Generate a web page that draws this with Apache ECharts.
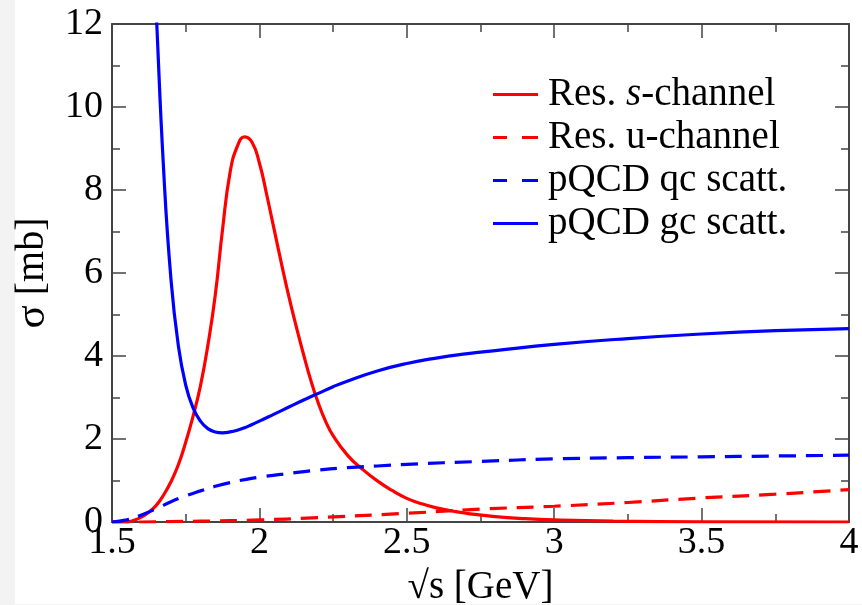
<!DOCTYPE html>
<html>
<head>
<meta charset="utf-8">
<script src="https://cdn.jsdelivr.net/npm/echarts@6/dist/echarts.min.js"></script>
<style>
  html, body { margin: 0; padding: 0; background: #ffffff; }
  #chart { width: 862px; height: 605px; }
</style>
</head>
<body>
<div id="chart"></div>
<script>
// Resonance s-channel contribution (sqrt(s) in GeV, sigma in mb)
const sChanX = [1.50, 1.55, 1.575, 1.60, 1.625, 1.65, 1.675, 1.70, 1.725, 1.75, 1.775, 1.80, 1.825, 1.85, 1.875, 1.90, 1.925, 1.95, 1.975, 2.00, 2.025, 2.05, 2.075, 2.10, 2.125, 2.15, 2.175, 2.20, 2.225, 2.25, 2.30, 2.35, 2.40, 2.45, 2.50, 2.55, 2.60, 2.65, 2.70, 2.80, 2.90, 3.00, 3.20, 3.50, 4.00];
const sChanY = [0.00, 0.00, 0.04, 0.12, 0.24, 0.40, 0.65, 0.97, 1.38, 1.92, 2.55, 3.28, 4.25, 5.45, 7.05, 8.40, 9.05, 9.28, 9.15, 8.65, 7.88, 7.05, 6.22, 5.43, 4.71, 4.03, 3.40, 2.86, 2.42, 2.08, 1.60, 1.27, 0.99, 0.76, 0.57, 0.44, 0.34, 0.27, 0.21, 0.13, 0.08, 0.05, 0.02, 0.005, 0.00];

// Resonance u-channel contribution
const uChanX = [1.50, 1.60, 1.70, 1.80, 2.00, 2.18, 2.50, 2.75, 3.00, 3.25, 3.50, 3.75, 4.00];
const uChanY = [0.00, 0.00, 0.01, 0.02, 0.05, 0.10, 0.21, 0.31, 0.38, 0.47, 0.58, 0.67, 0.78];

// Perturbative QCD quark-charm scattering
const qcX = [1.50, 1.55, 1.60, 1.65, 1.70, 1.75, 1.80, 1.85, 1.90, 1.95, 2.00, 2.10, 2.20, 2.30, 2.40, 2.50, 2.75, 3.00, 3.25, 3.50, 3.75, 4.00];
const qcY = [0.00, 0.05, 0.17, 0.32, 0.49, 0.63, 0.75, 0.86, 0.95, 1.02, 1.08, 1.17, 1.25, 1.31, 1.35, 1.39, 1.46, 1.52, 1.55, 1.57, 1.59, 1.61];

// Perturbative QCD gluon-charm scattering
const gcX = [1.625, 1.65, 1.675, 1.70, 1.725, 1.75, 1.775, 1.80, 1.825, 1.85, 1.875, 1.90, 1.925, 1.95, 1.975, 2.00, 2.05, 2.10, 2.15, 2.20, 2.25, 2.30, 2.40, 2.50, 2.60, 2.70, 2.80, 3.00, 3.25, 3.50, 3.75, 4.00];
const gcY = [16.2, 12.3, 8.50, 5.85, 4.25, 3.30, 2.75, 2.43, 2.25, 2.17, 2.15, 2.17, 2.21, 2.27, 2.35, 2.43, 2.60, 2.77, 2.94, 3.10, 3.26, 3.40, 3.64, 3.82, 3.95, 4.05, 4.13, 4.28, 4.42, 4.53, 4.61, 4.66];

const xTicks = [1.5, 2, 2.5, 3, 3.5, 4];
const yTicks = [0, 2, 4, 6, 8, 10, 12];

const seriesNames = ['Res. s-channel', 'Res. u-channel', 'pQCD qc scatt.', 'pQCD gc scatt.'];
const seriesDashed = [false, true, true, false];

const pairs = (xs, ys) => xs.map((x, i) => [x, ys[i]]);

const SERIF = '"Liberation Serif", "DejaVu Serif", serif';
const AXIS_COLOR = '#444444';
const RED = '#ff0000';
const BLUE = '#0000ff';
const DASH = [17, 10];
const ICON_SOLID = 'path://M0,0H45V3H0Z';
const ICON_DASHED = 'path://M0,0H14V3H0ZM29,0H45V3H29Z';

function axisCommon(showLabels) {
  return {
    axisLine: { show: true, onZero: false, lineStyle: { color: AXIS_COLOR, width: 2 } },
    axisTick: { show: true, inside: true, length: 14, lineStyle: { color: AXIS_COLOR, width: 1.5 } },
    minorTick: { show: true, splitNumber: 2, length: 8, lineStyle: { color: AXIS_COLOR, width: 1.5 } },
    splitLine: { show: false },
    minorSplitLine: { show: false },
    axisLabel: { show: showLabels }
  };
}

function lineSeries(name, data, color, dashed) {
  return {
    name: name,
    type: 'line',
    data: data,
    xAxisIndex: 0,
    yAxisIndex: 0,
    smooth: 0.5,
    showSymbol: false,
    symbol: 'none',
    clip: true,
    silent: true,
    itemStyle: { color: color },
    lineStyle: { color: color, width: 3.2, type: dashed ? DASH : 'solid' },
    z: 3
  };
}

const chart = echarts.init(document.getElementById('chart'), null, { renderer: 'canvas' });

chart.setOption({
  animation: false,
  backgroundColor: '#ffffff',
  textStyle: { fontFamily: SERIF },
  graphic: [
    { type: 'rect', left: 0, top: 0, shape: { width: 15, height: 605 }, style: { fill: '#f3f3f3' }, z: -1 },
    { type: 'rect', left: 0, top: 604, shape: { width: 862, height: 1 }, style: { fill: '#f3f3f3' }, z: -1 }
  ],
  grid: { left: 112, top: 24, right: 13, bottom: 83, containLabel: false, outerBoundsMode: 'none' },
  legend: {
    show: true,
    orient: 'vertical',
    left: 488,
    top: 70,
    itemWidth: 45,
    itemHeight: 3,
    itemGap: 4,
    data: seriesNames.map((n, i) => ({ name: n, icon: seriesDashed[i] ? ICON_DASHED : ICON_SOLID })),
    textStyle: {
      fontFamily: SERIF, fontSize: 39, color: '#000000', padding: [0, 0, 0, 5],
      rich: {
        n: { fontFamily: SERIF, fontSize: 39, color: '#000000' },
        i: { fontFamily: SERIF, fontSize: 39, color: '#000000', fontStyle: 'italic' }
      }
    },
    formatter: function (name) {
      if (name === 'Res. s-channel') return '{n|Res. }{i|s}{n|-channel}';
      return '{n|' + name + '}';
    }
  },
  xAxis: [
    Object.assign(axisCommon(true), {
      type: 'value', position: 'bottom', min: xTicks[0], max: xTicks[xTicks.length - 1], interval: 0.5,
      name: '√s [GeV]', nameLocation: 'middle', nameGap: 46,
      nameTextStyle: { fontFamily: SERIF, fontSize: 39, color: '#000000' },
      axisLabel: { show: true, margin: 2, fontFamily: SERIF, fontSize: 38, color: '#000000',
        formatter: v => String(v) }
    }),
    Object.assign(axisCommon(false), {
      type: 'value', position: 'top', min: xTicks[0], max: xTicks[xTicks.length - 1], interval: 0.5
    })
  ],
  yAxis: [
    Object.assign(axisCommon(true), {
      type: 'value', position: 'left', min: yTicks[0], max: yTicks[yTicks.length - 1], interval: 2,
      name: '{s|σ} [mb]', nameLocation: 'middle', nameGap: 39, nameRotate: 90,
      nameTextStyle: { fontFamily: SERIF, fontSize: 40, color: '#000000',
        rich: { s: { fontFamily: SERIF, fontSize: 43, color: '#000000' } } },
      axisLabel: { show: true, margin: 9, fontFamily: SERIF, fontSize: 38, color: '#000000' }
    }),
    Object.assign(axisCommon(false), {
      type: 'value', position: 'right', min: yTicks[0], max: yTicks[yTicks.length - 1], interval: 2
    })
  ],
  series: [
    lineSeries(seriesNames[0], pairs(sChanX, sChanY), RED, seriesDashed[0]),
    lineSeries(seriesNames[1], pairs(uChanX, uChanY), RED, seriesDashed[1]),
    lineSeries(seriesNames[2], pairs(qcX, qcY), BLUE, seriesDashed[2]),
    lineSeries(seriesNames[3], pairs(gcX, gcY), BLUE, seriesDashed[3])
  ]
});
</script>
</body>
</html>
